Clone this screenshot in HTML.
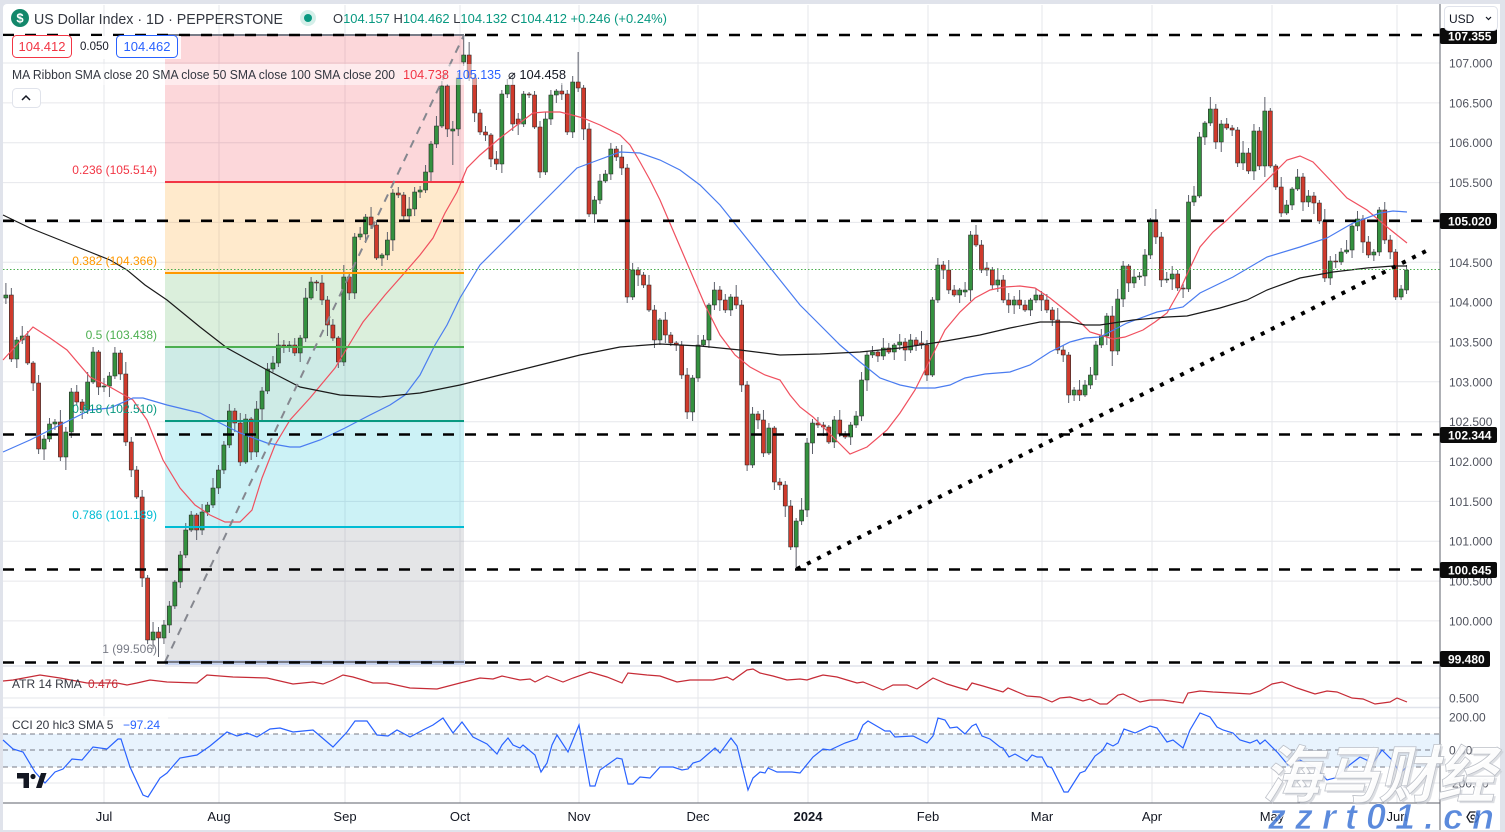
<!DOCTYPE html>
<html><head><meta charset="utf-8"><title>US Dollar Index 1D</title>
<style>
html,body{margin:0;padding:0;background:#e0e3eb;}
body{width:1505px;height:832px;overflow:hidden;}
svg{display:block;font-family:"Liberation Sans",sans-serif;}
</style></head>
<body>
<svg width="1505" height="832" viewBox="0 0 1505 832" xmlns="http://www.w3.org/2000/svg">
<rect x="0" y="0" width="1505" height="832" fill="#e0e3eb"/>
<rect x="3" y="4" width="1497" height="826" rx="4" fill="#ffffff"/>

<!-- grid -->
<g stroke="#e6e7eb" stroke-width="1">
  <line x1="104" y1="5" x2="104" y2="803"/><line x1="219" y1="5" x2="219" y2="803"/>
  <line x1="345" y1="5" x2="345" y2="803"/><line x1="460" y1="5" x2="460" y2="803"/>
  <line x1="579" y1="5" x2="579" y2="803"/><line x1="698" y1="5" x2="698" y2="803"/>
  <line x1="808" y1="5" x2="808" y2="803"/><line x1="928" y1="5" x2="928" y2="803"/>
  <line x1="1042" y1="5" x2="1042" y2="803"/><line x1="1152" y1="5" x2="1152" y2="803"/>
  <line x1="1272" y1="5" x2="1272" y2="803"/><line x1="1397" y1="5" x2="1397" y2="803"/>
  <line x1="3" y1="63" x2="1440" y2="63"/><line x1="3" y1="102.9" x2="1440" y2="102.9"/>
  <line x1="3" y1="142.7" x2="1440" y2="142.7"/><line x1="3" y1="182.6" x2="1440" y2="182.6"/>
  <line x1="3" y1="222.4" x2="1440" y2="222.4"/><line x1="3" y1="262.3" x2="1440" y2="262.3"/>
  <line x1="3" y1="302.1" x2="1440" y2="302.1"/><line x1="3" y1="342" x2="1440" y2="342"/>
  <line x1="3" y1="381.8" x2="1440" y2="381.8"/><line x1="3" y1="421.7" x2="1440" y2="421.7"/>
  <line x1="3" y1="461.5" x2="1440" y2="461.5"/><line x1="3" y1="501.4" x2="1440" y2="501.4"/>
  <line x1="3" y1="541.2" x2="1440" y2="541.2"/><line x1="3" y1="581.1" x2="1440" y2="581.1"/>
  <line x1="3" y1="620.9" x2="1440" y2="620.9"/>
  <line x1="3" y1="698" x2="1440" y2="698"/>
  <line x1="3" y1="718" x2="1440" y2="718"/><line x1="3" y1="783" x2="1440" y2="783"/>
</g>
<line x1="3" y1="666" x2="1500" y2="666" stroke="#e0e3eb" stroke-width="1.5"/>
<line x1="3" y1="707.5" x2="1500" y2="707.5" stroke="#e0e3eb" stroke-width="1.5"/>

<!-- fib zones -->
<rect x="165" y="35" width="299" height="147" fill="rgba(242,54,69,0.2)"/>
<rect x="165" y="182" width="299" height="91" fill="rgba(255,152,0,0.2)"/>
<rect x="165" y="273" width="299" height="74" fill="rgba(76,175,80,0.2)"/>
<rect x="165" y="347" width="299" height="74" fill="rgba(8,153,129,0.2)"/>
<rect x="165" y="421" width="299" height="106" fill="rgba(0,188,212,0.2)"/>
<rect x="165" y="527" width="299" height="135" fill="rgba(120,123,134,0.2)"/>
<rect x="165" y="660" width="300" height="5" fill="#c9d6f2"/>

<!-- CCI band -->
<rect x="3" y="734" width="1437" height="33" fill="#e8f3fd"/>
<g stroke="#787b86" stroke-width="1" stroke-dasharray="5 4">
  <line x1="3" y1="734" x2="1440" y2="734"/><line x1="3" y1="750" x2="1440" y2="750"/><line x1="3" y1="767" x2="1440" y2="767"/>
</g>

<!-- candles -->
<g transform="translate(5.9,0) scale(5.45,1)">
<path fill="none" stroke="#5d606b" stroke-width="1" vector-effect="non-scaling-stroke" d="M0 283V304M1 288V362M2 337V368M3 326V344M4 331V365M5 361V391M6 375V454M7 435V460M8 418V442M9 419V430M10 410V461M11 427V470M12 388V438M13 385V405M14 399V419M15 372V414M16 347V384M17 350V395M18 378V392M19 372V397M20 347V379M21 350V380M22 362V446M23 437V477M24 466V499M25 490V587M26 575V644M27 622V649M28 627V657M29 620V644M30 601V633M31 580V609M32 551V588M33 523V558M34 511V532M35 513V540M36 504V535M37 502V516M38 478V508M39 465V494M40 441V474M41 404V448M42 408V432M43 413V466M44 414V464M45 417V460M46 401V457M47 387V420M48 363V394M49 356V372M50 333V367M51 340V353M52 341V352M53 338V356M54 335V362M55 288V342M56 277V300M57 280V291M58 275V305M59 296V336M60 319V341M61 336V368M62 265V366M63 272V300M64 233V299M65 227V240M66 214V243M67 207V229M68 220V260M69 253V266M70 232V260M71 189V251M72 187V198M73 192V222M74 197V220M75 187V216M76 186V198M77 165V193M78 141V181M79 116V148M80 81V128M81 84V137M82 121V165M83 73V136M84 35V66M85 42V81M86 75V122M87 109V135M88 126V141M89 133V167M90 151V170M91 90V173M92 79V98M93 75V131M94 113V135M95 91V127M96 92V98M97 91V129M98 121V178M99 112V175M100 90V125M101 89V103M102 83V100M103 90V135M104 76V138M105 52V92M106 85V140M107 123V217M108 196V223M109 174V204M110 170V183M111 143V180M112 146V161M113 145V175M114 164V303M115 263V300M116 267V286M117 272V288M118 275V312M119 305V348M120 318V345M121 312V343M122 332V346M123 341V351M124 341V379M125 368V419M126 375V421M127 335V382M128 335V347M129 303V348M130 282V310M131 286V311M132 294V313M133 294V316M134 285V309M135 300V392M136 381V471M137 407V468M138 411V429M139 410V457M140 423V455M141 426V490M142 478V490M143 481V517M144 500V550M145 518V569M146 498V525M147 438V517M148 419V454M149 417V428M150 422V436M151 425V444M152 416V448M153 410V437M154 431V439M155 422V445M156 411V428M157 372V421M158 351V391M159 346V358M160 350V362M161 338V360M162 343V354M163 343V360M164 334V350M165 338V361M166 334V353M167 337V351M168 331V349M169 340V381M170 297V377M171 258V303M172 261V279M173 260V294M174 285V297M175 288V303M176 282V297M177 231V301M178 225V247M179 240V273M180 262V276M181 267V289M182 268V292M183 275V303M184 293V313M185 296V314M186 290V309M187 300V312M188 298V316M189 288V303M190 291V311M191 294V313M192 307V326M193 308V354M194 345V362M195 352V403M196 387V401M197 380V401M198 380V397M199 367V389M200 341V380M201 329V348M202 313V345M203 306V366M204 289V355M205 261V307M206 264V292M207 269V288M208 272V280M209 249V286M210 218V259M211 209V244M212 232V287M213 272V283M214 266V290M215 270V291M216 284V298M217 195V292M218 186V206M219 132V198M220 121V145M221 97V126M222 104V149M223 120V152M224 118V130M225 125V136M226 127V167M227 141V170M228 148V174M229 124V180M230 127V170M231 97V177M232 108V168M233 164V190M234 177V217M235 200V215M236 187V210M237 169V191M238 173V211M239 190V207M240 192V214M241 200V224M242 209V282M243 256V285M244 254V268M245 248V265M246 240V254M247 224V258M248 211V231M249 215V253M250 236V258M251 249V261M252 207V256M253 202V244M254 235V259M255 249V300M256 285V300M257 265V294"/>
<path fill="#34913f" stroke="#262626" stroke-width="0.6" vector-effect="non-scaling-stroke" d="M-.37 295h.74V298h-.74zM1.63 340h.74V359h-.74zM2.63 336h.74V340h-.74zM6.63 439h.74V449h-.74zM7.63 424h.74V439h-.74zM8.63 422h.74V424h-.74zM10.63 432h.74V457h-.74zM11.63 392h.74V432h-.74zM14.63 382h.74V410h-.74zM15.63 352h.74V382h-.74zM17.63 386h.74V387h-.74zM18.63 376h.74V386h-.74zM19.63 353h.74V376h-.74zM26.63 632h.74V640h-.74zM28.63 625h.74V638h-.74zM29.63 606h.74V625h-.74zM30.63 582h.74V606h-.74zM31.63 555h.74V582h-.74zM32.63 530h.74V555h-.74zM33.63 515h.74V530h-.74zM35.63 512h.74V530h-.74zM36.63 505h.74V512h-.74zM37.63 488h.74V505h-.74zM38.63 470h.74V488h-.74zM39.63 445h.74V470h-.74zM40.63 411h.74V445h-.74zM43.63 419h.74V462h-.74zM45.63 409h.74V452h-.74zM46.63 391h.74V409h-.74zM47.63 369h.74V391h-.74zM48.63 363h.74V369h-.74zM49.63 345h.74V363h-.74zM51.63 345h.74V346h-.74zM53.63 338h.74V353h-.74zM54.63 298h.74V338h-.74zM55.63 282h.74V298h-.74zM61.63 277h.74V362h-.74zM63.63 237h.74V293h-.74zM64.63 234h.74V237h-.74zM65.63 217h.74V234h-.74zM68.63 255h.74V258h-.74zM69.63 240h.74V255h-.74zM70.63 193h.74V240h-.74zM73.63 209h.74V216h-.74zM74.63 192h.74V209h-.74zM75.63 190h.74V192h-.74zM76.63 172h.74V190h-.74zM77.63 144h.74V172h-.74zM78.63 126h.74V144h-.74zM79.63 86h.74V126h-.74zM81.63 129h.74V131h-.74zM82.63 78h.74V129h-.74zM83.63 55h.74V62h-.74zM90.63 94h.74V164h-.74zM91.63 85h.74V94h-.74zM94.63 94h.74V124h-.74zM98.63 119h.74V172h-.74zM99.63 95h.74V119h-.74zM100.63 91h.74V95h-.74zM103.63 82h.74V132h-.74zM107.63 200h.74V214h-.74zM108.63 181h.74V200h-.74zM109.63 174h.74V181h-.74zM110.63 149h.74V174h-.74zM114.63 270h.74V297h-.74zM119.63 320h.74V340h-.74zM125.63 378h.74V412h-.74zM126.63 345h.74V378h-.74zM127.63 340h.74V345h-.74zM128.63 305h.74V340h-.74zM129.63 290h.74V305h-.74zM132.63 297h.74V310h-.74zM136.63 414h.74V465h-.74zM139.63 428h.74V453h-.74zM144.63 521h.74V547h-.74zM145.63 510h.74V521h-.74zM146.63 443h.74V510h-.74zM147.63 423h.74V443h-.74zM151.63 420h.74V442h-.74zM154.63 425h.74V437h-.74zM155.63 416h.74V425h-.74zM156.63 380h.74V416h-.74zM157.63 355h.74V380h-.74zM158.63 352h.74V355h-.74zM160.63 348h.74V356h-.74zM162.63 345h.74V352h-.74zM163.63 342h.74V345h-.74zM165.63 340h.74V350h-.74zM169.63 300h.74V375h-.74zM170.63 265h.74V300h-.74zM174.63 290h.74V295h-.74zM175.63 290h.74V292h-.74zM176.63 235h.74V290h-.74zM181.63 280h.74V285h-.74zM184.63 300h.74V305h-.74zM187.63 300h.74V310h-.74zM188.63 295h.74V300h-.74zM195.63 390h.74V395h-.74zM197.63 385h.74V395h-.74zM198.63 375h.74V385h-.74zM199.63 345h.74V375h-.74zM200.63 336h.74V345h-.74zM201.63 316h.74V336h-.74zM203.63 299h.74V351h-.74zM204.63 266h.74V299h-.74zM206.63 277h.74V283h-.74zM207.63 276h.74V277h-.74zM208.63 255h.74V276h-.74zM209.63 221h.74V255h-.74zM212.63 279h.74V280h-.74zM213.63 274h.74V279h-.74zM216.63 202h.74V289h-.74zM217.63 196h.74V202h-.74zM218.63 137h.74V196h-.74zM219.63 123h.74V137h-.74zM220.63 109h.74V123h-.74zM222.63 124h.74V142h-.74zM226.63 153h.74V163h-.74zM228.63 131h.74V171h-.74zM230.63 111h.74V166h-.74zM234.63 205h.74V213h-.74zM235.63 189h.74V205h-.74zM236.63 177h.74V189h-.74zM238.63 196h.74V202h-.74zM242.63 261h.74V278h-.74zM244.63 252h.74V262h-.74zM245.63 250h.74V252h-.74zM246.63 226h.74V250h-.74zM247.63 219h.74V226h-.74zM250.63 252h.74V255h-.74zM251.63 210h.74V252h-.74zM255.63 289h.74V297h-.74zM256.63 270h.74V290h-.74z"/>
<path fill="#cf3a2c" stroke="#262626" stroke-width="0.6" vector-effect="non-scaling-stroke" d="M.63 295h.74V359h-.74zM3.63 336h.74V363h-.74zM4.63 363h.74V383h-.74zM5.63 383h.74V449h-.74zM9.63 422h.74V457h-.74zM12.63 392h.74V402h-.74zM13.63 402h.74V410h-.74zM16.63 352h.74V387h-.74zM20.63 353h.74V374h-.74zM21.63 374h.74V442h-.74zM22.63 442h.74V470h-.74zM23.63 470h.74V497h-.74zM24.63 497h.74V578h-.74zM25.63 578h.74V640h-.74zM27.63 632h.74V638h-.74zM34.63 515h.74V530h-.74zM41.63 411h.74V423h-.74zM42.63 423h.74V462h-.74zM44.63 419h.74V452h-.74zM50.63 345h.74V346h-.74zM52.63 345h.74V353h-.74zM56.63 282h.74V283h-.74zM57.63 283h.74V300h-.74zM58.63 300h.74V325h-.74zM59.63 325h.74V338h-.74zM60.63 338h.74V362h-.74zM62.63 277h.74V293h-.74zM66.63 217h.74V225h-.74zM67.63 225h.74V258h-.74zM71.63 193h.74V195h-.74zM72.63 195h.74V216h-.74zM80.63 86h.74V129h-.74zM84.63 55h.74V78h-.74zM85.63 78h.74V113h-.74zM86.63 113h.74V132h-.74zM87.63 132h.74V135h-.74zM88.63 135h.74V159h-.74zM89.63 159h.74V164h-.74zM92.63 85h.74V124h-.74zM93.63 119h.74V124h-.74zM95.63 94h.74V95h-.74zM96.63 95h.74V127h-.74zM97.63 127h.74V172h-.74zM101.63 91h.74V94h-.74zM102.63 94h.74V132h-.74zM104.63 82h.74V88h-.74zM105.63 88h.74V129h-.74zM106.63 129h.74V214h-.74zM111.63 149h.74V157h-.74zM112.63 157h.74V168h-.74zM113.63 168h.74V297h-.74zM115.63 270h.74V275h-.74zM116.63 275h.74V285h-.74zM117.63 285h.74V310h-.74zM118.63 310h.74V340h-.74zM120.63 320h.74V335h-.74zM121.63 335h.74V343h-.74zM122.63 343h.74V345h-.74zM123.63 345h.74V375h-.74zM124.63 375h.74V412h-.74zM130.63 290h.74V300h-.74zM131.63 300h.74V310h-.74zM133.63 297h.74V305h-.74zM134.63 305h.74V385h-.74zM135.63 385h.74V465h-.74zM137.63 414h.74V420h-.74zM138.63 420h.74V453h-.74zM140.63 428h.74V482h-.74zM141.63 482h.74V485h-.74zM142.63 485h.74V506h-.74zM143.63 506h.74V547h-.74zM148.63 423h.74V425h-.74zM149.63 425h.74V427h-.74zM150.63 427h.74V442h-.74zM152.63 420h.74V434h-.74zM153.63 434h.74V437h-.74zM159.63 352h.74V356h-.74zM161.63 348h.74V352h-.74zM164.63 342h.74V350h-.74zM166.63 340h.74V345h-.74zM167.63 343h.74V345h-.74zM168.63 345h.74V375h-.74zM171.63 265h.74V270h-.74zM172.63 270h.74V290h-.74zM173.63 290h.74V295h-.74zM177.63 235h.74V245h-.74zM178.63 245h.74V270h-.74zM179.63 268h.74V270h-.74zM180.63 270h.74V285h-.74zM182.63 280h.74V300h-.74zM183.63 300h.74V305h-.74zM185.63 300h.74V305h-.74zM186.63 305h.74V310h-.74zM189.63 295h.74V300h-.74zM190.63 300h.74V310h-.74zM191.63 310h.74V320h-.74zM192.63 320h.74V350h-.74zM193.63 350h.74V355h-.74zM194.63 355h.74V395h-.74zM196.63 390h.74V395h-.74zM202.63 316h.74V351h-.74zM205.63 266h.74V283h-.74zM210.63 221h.74V237h-.74zM211.63 237h.74V280h-.74zM214.63 274h.74V288h-.74zM215.63 288h.74V289h-.74zM221.63 109h.74V142h-.74zM223.63 124h.74V128h-.74zM224.63 128h.74V130h-.74zM225.63 130h.74V163h-.74zM227.63 153h.74V171h-.74zM229.63 131h.74V166h-.74zM231.63 111h.74V166h-.74zM232.63 166h.74V187h-.74zM233.63 187h.74V213h-.74zM237.63 177h.74V202h-.74zM239.63 196h.74V203h-.74zM240.63 203h.74V221h-.74zM241.63 221h.74V278h-.74zM243.63 261h.74V262h-.74zM248.63 219h.74V242h-.74zM249.63 242h.74V255h-.74zM252.63 210h.74V240h-.74zM253.63 240h.74V252h-.74zM254.63 252h.74V297h-.74z"/>
</g>

<!-- MA lines -->
<polyline fill="none" stroke="#f0505f" stroke-width="1.2" points="3,360 33,327 50,338 67,350 90,377 110,387 133,400 147,420 163,460 180,488 195,505 210,515 225,522 240,522 252,510 262,478 275,445 290,420 310,398 335,368 355,335 363,322 385,295 400,278 420,255 433,238 445,213 457,192 467,168 480,155 500,138 517,125 533,113 545,112 560,112 572,115 583,118 600,125 620,135 630,145 640,162 650,180 660,200 675,235 690,270 705,305 720,335 735,355 750,367 765,375 780,380 790,395 800,407 813,417 833,437 850,454 867,447 887,430 900,413 915,390 930,360 945,330 960,312 975,298 990,290 1005,287 1020,286 1035,288 1050,298 1065,310 1080,322 1090,332 1100,335 1113,339 1125,337 1143,330 1155,322 1167,313 1180,290 1190,268 1200,247 1213,232 1227,220 1247,200 1267,180 1287,160 1300,156 1313,162 1333,183 1347,198 1367,210 1387,227 1407,243"/>
<polyline fill="none" stroke="#4a7cf0" stroke-width="1.2" points="3,452 30,440 60,425 90,410 110,408 133,398 143,398 167,405 200,413 220,423 240,433 267,443 290,447 300,447 320,440 345,428 370,415 390,405 405,395 420,375 435,345 447,325 460,298 480,265 500,245 533,212 560,185 577,168 593,162 620,152 640,153 660,160 680,170 700,185 720,205 740,230 760,255 780,280 800,305 820,325 840,345 860,362 880,378 900,385 915,388 935,388 950,385 965,378 985,374 1010,372 1030,365 1050,352 1070,342 1085,338 1100,337 1127,323 1157,312 1183,307 1200,293 1233,277 1267,257 1300,247 1327,238 1353,223 1380,213 1393,211 1407,212"/>
<polyline fill="none" stroke="#1a1a1a" stroke-width="1.2" points="3,215 30,228 60,240 90,252 110,260 127,270 145,285 167,300 200,327 227,348 267,370 300,387 340,395 380,397 420,393 460,385 500,375 540,365 580,355 620,347 660,344 700,346 740,350 780,355 820,354 860,352 900,348 940,342 980,335 1010,328 1040,322 1070,322 1085,325 1100,325 1133,320 1167,317 1187,316 1220,308 1247,300 1267,290 1300,278 1333,272 1367,268 1393,266 1407,266"/>

<!-- fib lines -->
<line x1="165" y1="35" x2="464" y2="35" stroke="#787b86" stroke-width="2"/>
<line x1="165" y1="182" x2="464" y2="182" stroke="#f23645" stroke-width="2"/>
<line x1="165" y1="273" x2="464" y2="273" stroke="#ff9800" stroke-width="2"/>
<line x1="165" y1="347" x2="464" y2="347" stroke="#4caf50" stroke-width="2"/>
<line x1="165" y1="421" x2="464" y2="421" stroke="#089981" stroke-width="2"/>
<line x1="165" y1="527" x2="464" y2="527" stroke="#00bcd4" stroke-width="2"/>
<line x1="165" y1="662" x2="464" y2="662" stroke="#787b86" stroke-width="2"/>
<line x1="165" y1="662" x2="464" y2="35" stroke="#85878f" stroke-width="2" stroke-dasharray="8 7"/>
<g font-size="12" text-anchor="end">
  <text x="157" y="174" fill="#f23645">0.236 (105.514)</text>
  <text x="157" y="265" fill="#ff9800">0.382 (104.366)</text>
  <text x="157" y="339" fill="#4caf50">0.5 (103.438)</text>
  <text x="157" y="413" fill="#089981">0.618 (102.510)</text>
  <text x="157" y="519" fill="#00bcd4">0.786 (101.189)</text>
  <text x="157" y="653" fill="#787b86">1 (99.506)</text>
</g>

<!-- horizontal dashed levels -->
<g stroke="#000" stroke-width="2.6" stroke-dasharray="11 11">
  <line x1="3" y1="35" x2="1440" y2="35"/>
  <line x1="3" y1="220.8" x2="1440" y2="220.8"/>
  <line x1="3" y1="434.5" x2="1440" y2="434.5"/>
  <line x1="3" y1="569.5" x2="1440" y2="569.5"/>
  <line x1="3" y1="662.5" x2="1440" y2="662.5"/>
</g>
<line x1="797" y1="569" x2="1432" y2="248" stroke="#000" stroke-width="4" stroke-dasharray="4 7.3"/>
<line x1="3" y1="269.5" x2="1440" y2="269.5" stroke="#4caf50" stroke-width="1" stroke-dasharray="1.5 2"/>

<!-- ATR -->
<polyline fill="none" stroke="#c62b36" stroke-width="1.2" points="3,681 13,680 40,675 60,678 87,683 117,683 127,685 137,683 150,680 167,682 197,683 207,675 233,677 267,678 293,684 313,682 323,684 333,680 343,675 353,677 373,683 387,683 410,688 437,689 460,683 480,678 493,679 502,676 520,680 530,679 535,682 547,676 563,682 573,678 590,672 607,677 622,683 628,673 647,675 660,676 677,682 690,680 713,680 727,677 733,680 747,670 753,669 760,673 773,676 787,680 800,679 807,680 813,678 823,675 837,677 847,680 857,683 863,682 883,690 893,685 907,685 917,689 933,678 947,684 960,688 967,690 972,683 983,686 993,689 1003,692 1008,688 1027,696 1040,697 1052,702 1060,698 1070,697 1083,701 1090,699 1100,704 1107,704 1118,695 1123,694 1140,702 1150,700 1163,700 1183,703 1188,693 1200,691 1213,692 1233,693 1250,694 1260,691 1272,684 1282,682 1297,688 1315,694 1327,691 1337,692 1352,698 1363,699 1375,704 1390,702 1397,698 1407,702"/>
<!-- CCI -->
<polyline fill="none" stroke="#2962ff" stroke-width="1.2" points="3,740 13,749 23,752 35,772 45,783 55,772 63,769 72,759 82,760 93,747 107,749 118,739 121,739 130,767 143,795 148,797 160,778 167,773 180,758 197,755 210,746 227,732 237,736 247,733 257,737 270,729 280,728 293,732 313,730 333,747 347,732 355,721 367,721 377,735 388,736 397,730 410,737 423,730 433,725 443,718 453,733 462,722 473,737 487,744 497,754 502,745 508,738 513,745 520,748 523,745 535,755 541,772 547,763 552,745 557,735 568,752 579,725 590,786 595,786 600,770 617,758 622,759 628,784 633,784 640,777 650,778 660,767 673,767 682,770 688,769 693,763 700,761 715,748 720,753 731,738 737,746 748,790 753,778 760,772 765,773 768,768 777,772 792,772 800,773 813,757 823,749 830,750 845,743 857,739 863,725 868,721 880,728 885,731 890,731 895,737 913,736 927,743 933,736 938,718 945,720 950,728 957,727 965,734 972,726 976,724 982,736 990,739 1000,747 1003,748 1009,757 1015,754 1027,761 1032,755 1037,757 1042,757 1047,766 1052,768 1064,792 1068,792 1080,773 1085,771 1095,756 1102,751 1107,743 1113,746 1118,743 1124,729 1135,733 1150,726 1157,728 1167,742 1173,740 1183,748 1190,730 1200,713 1210,717 1217,727 1223,730 1233,733 1240,740 1250,743 1257,740 1260,744 1265,740 1278,753 1288,765 1300,760 1307,764 1315,767 1327,780 1335,778 1343,770 1360,757 1373,763 1382,750 1392,760 1400,773 1408,766"/>

<!-- legends -->
<rect x="3" y="64" width="567" height="21" fill="rgba(255,255,255,0.5)"/>
<rect x="3" y="36" width="178" height="23" fill="rgba(255,255,255,0.85)"/>
<circle cx="20" cy="18" r="9" fill="#13876a"/>
<text x="20" y="22.5" font-size="13" font-weight="bold" fill="#fff" text-anchor="middle">$</text>
<text x="34" y="24" font-size="14.5" fill="#333740" textLength="249" lengthAdjust="spacingAndGlyphs">US Dollar Index · 1D · PEPPERSTONE</text>
<circle cx="308" cy="18" r="8" fill="#d4efe9"/>
<circle cx="308" cy="18" r="4" fill="#089981"/>
<text x="333" y="23" font-size="13" fill="#089981" textLength="334" lengthAdjust="spacingAndGlyphs"><tspan fill="#333740">O</tspan>104.157 <tspan fill="#333740">H</tspan>104.462 <tspan fill="#333740">L</tspan>104.132 <tspan fill="#333740">C</tspan>104.412 +0.246 (+0.24%)</text>

<rect x="12.5" y="35.5" width="59" height="22" rx="4" fill="#fff" stroke="#f23645"/>
<text x="42" y="51" font-size="13" fill="#f23645" text-anchor="middle">104.412</text>
<text x="80" y="50" font-size="11.5" fill="#131722">0.050</text>
<rect x="116.5" y="35.5" width="61" height="22" rx="4" fill="#fff" stroke="#2962ff"/>
<text x="147" y="51" font-size="13" fill="#2962ff" text-anchor="middle">104.462</text>

<text x="12" y="79" font-size="12.5" fill="#333740" textLength="383" lengthAdjust="spacingAndGlyphs">MA Ribbon SMA close 20 SMA close 50 SMA close 100 SMA close 200</text>
<text x="403" y="79" font-size="12.5" fill="#f23645" textLength="46" lengthAdjust="spacingAndGlyphs">104.738</text>
<text x="456" y="79" font-size="12.5" fill="#2962ff" textLength="45" lengthAdjust="spacingAndGlyphs">105.135</text>
<text x="508" y="79" font-size="12.5" fill="#131722" textLength="58" lengthAdjust="spacingAndGlyphs">⌀ 104.458</text>
<rect x="12.5" y="88.5" width="28" height="19" rx="4" fill="#fff" stroke="#e0e3eb"/>
<polyline points="22,100 26,96 30,100" fill="none" stroke="#131722" stroke-width="1.5"/>

<text x="12" y="688" font-size="12" fill="#333740">ATR 14 RMA</text>
<text x="88" y="688" font-size="12" fill="#c62b36">0.476</text>
<rect x="3" y="716" width="165" height="17" fill="rgba(255,255,255,0.7)"/>
<text x="12" y="729" font-size="12" fill="#333740">CCI 20 hlc3 SMA 5</text>
<text x="123" y="729" font-size="12" fill="#2962ff">−97.24</text>

<!-- TV logo -->
<path d="M17 773 h12 v15 h-5.5 v-9.5 h-6.5 z" fill="#131722"/>
<circle cx="33" cy="776.5" r="2.6" fill="#131722"/>
<path d="M36 788 L41 773 H46.5 L41.5 788 z" fill="#131722"/>

<!-- time axis -->
<rect x="3" y="803" width="1437" height="27" fill="#fff"/>
<line x1="3" y1="803" x2="1440" y2="803" stroke="#5d606b" stroke-width="1"/>
<g font-size="13" fill="#131722" text-anchor="middle">
  <text x="104" y="821">Jul</text><text x="219" y="821">Aug</text><text x="345" y="821">Sep</text>
  <text x="460" y="821">Oct</text><text x="579" y="821">Nov</text><text x="698" y="821">Dec</text>
  <text x="808" y="821" font-weight="bold">2024</text><text x="928" y="821">Feb</text>
  <text x="1042" y="821">Mar</text><text x="1152" y="821">Apr</text><text x="1272" y="821">May</text>
  <text x="1397" y="821">Jun</text>
</g>

<!-- right axis -->
<rect x="1440" y="4" width="60" height="826" fill="#fff"/>
<line x1="1440" y1="4" x2="1440" y2="830" stroke="#5d606b" stroke-width="1"/>
<g font-size="12" fill="#50535e">
  <text x="1449" y="67.5">107.000</text><text x="1449" y="107.4">106.500</text>
  <text x="1449" y="147.2">106.000</text><text x="1449" y="187.1">105.500</text>
  <text x="1449" y="266.8">104.500</text><text x="1449" y="306.6">104.000</text>
  <text x="1449" y="346.5">103.500</text><text x="1449" y="386.3">103.000</text>
  <text x="1449" y="426.2">102.500</text><text x="1449" y="466">102.000</text>
  <text x="1449" y="505.9">101.500</text><text x="1449" y="545.7">101.000</text>
  <text x="1449" y="585.6">100.500</text><text x="1449" y="625.4">100.000</text>
  <text x="1449" y="702.5">0.500</text>
  <text x="1449" y="721.5">200.00</text>
  <text x="1449" y="754.5">0.00</text>
  <text x="1445" y="787.5">−200.00</text>
</g>
<g font-size="12" font-weight="bold" fill="#fff">
  <rect x="1440" y="28" width="57" height="16" rx="2" fill="#0b0b0b"/><text x="1448" y="40.5">107.355</text>
  <rect x="1440" y="213" width="57" height="16" rx="2" fill="#0b0b0b"/><text x="1448" y="225.5">105.020</text>
  <rect x="1440" y="427" width="57" height="16" rx="2" fill="#0b0b0b"/><text x="1448" y="439.5">102.344</text>
  <rect x="1440" y="562" width="57" height="16" rx="2" fill="#0b0b0b"/><text x="1448" y="574.5">100.645</text>
  <rect x="1440" y="651" width="50" height="16" rx="2" fill="#0b0b0b"/><text x="1448" y="663.5">99.480</text>
</g>
<rect x="1444.5" y="6.5" width="53" height="24" rx="4" fill="#fff" stroke="#e0e3eb"/>
<text x="1449" y="23" font-size="12" fill="#131722">USD</text>
<polyline points="1486,17 1488.5,19.5 1491,17" fill="none" stroke="#131722" stroke-width="1.2"/>
<polygon points="1467,817 1470,812 1476,812 1479,817 1476,822 1470,822" fill="none" stroke="#131722" stroke-width="1.3"/>
<circle cx="1473" cy="817" r="2" fill="none" stroke="#131722" stroke-width="1.2"/>

<!-- watermark -->
<g font-family="'Liberation Sans','Noto Sans CJK SC',sans-serif" font-style="italic" font-weight="bold">
  <text x="1264" y="799" font-size="62" fill="#c8cbd2" opacity="0.6" textLength="233" lengthAdjust="spacingAndGlyphs">海马财经</text>
  <text x="1262" y="797" font-size="62" fill="#ffffff" stroke="#b8bcc4" stroke-width="0.8" opacity="0.92" textLength="233" lengthAdjust="spacingAndGlyphs">海马财经</text>
  <text x="1268" y="829" font-size="36" fill="#3f76d6" stroke="#ffffff" stroke-width="0.8" opacity="0.85" textLength="226" lengthAdjust="spacing">zzrt01.cn</text>
</g>
</svg>
</body></html>
